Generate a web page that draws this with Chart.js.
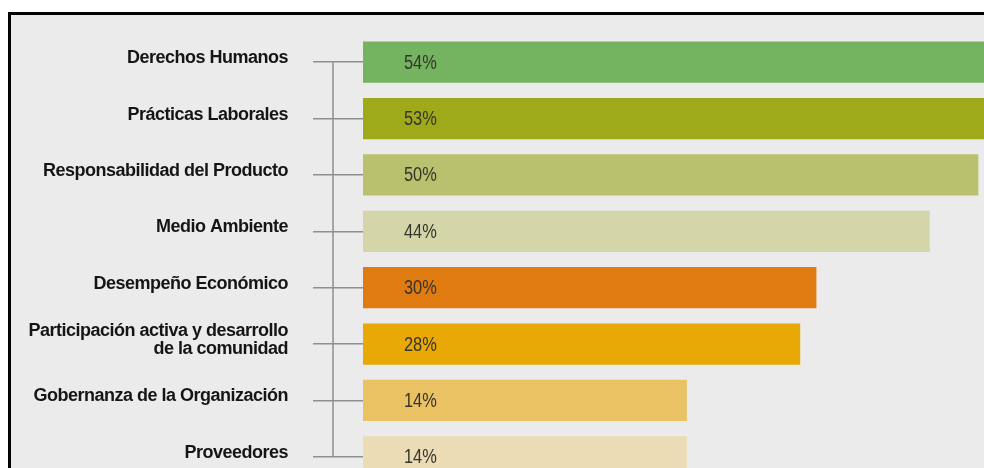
<!DOCTYPE html>
<html>
<head>
<meta charset="utf-8">
<script src="https://cdn.jsdelivr.net/npm/chart.js@4.4.1/dist/chart.umd.min.js"></script>
<style>
  html, body { margin: 0; padding: 0; background: #fff; overflow: hidden; width: 984px; height: 468px; }
  #frame { position: absolute; left: 8px; top: 12px; width: 1000px; height: 500px; border-top: 3px solid #000; border-left: 3px solid #000; background: #ebebeb; }
  #wrap { position: absolute; left: 0; top: 0; width: 984px; height: 520px; }
</style>
</head>
<body>
<div id="frame"></div>
<div id="wrap"><canvas id="chartTemas"></canvas></div>
<script>
/* global Chart */

const categorias = [
  'Derechos Humanos',
  'Prácticas Laborales',
  'Responsabilidad del Producto',
  'Medio Ambiente',
  'Desempeño Económico',
  ['Participación activa y desarrollo', 'de la comunidad'],
  'Gobernanza de la Organización',
  'Proveedores'
]
const porcentajes = [54, 53, 50, 44, 30, 28, 14, 14]
const colores = ['#74b35f', '#9faa1a', '#b9c06e', '#d4d6a9', '#e07b11', '#e8a806', '#eac163', '#ebdcb5']

// the bars start left of zero in the original
const ejeMin = -26
const ejeMax = 50.7

const fuente = "'Liberation Sans', Arial, sans-serif"

// tighter letters, closer to the condensed face of the original
const ajusteTexto = {
  id: 'ajusteTexto',
  beforeDraw (chart) {
    chart.ctx.letterSpacing = '-0.5px'
  }
}

const etiquetasValor = {
  id: 'etiquetasValor',
  afterDatasetsDraw (chart) {
    const { ctx } = chart
    const meta = chart.getDatasetMeta(0)
    ctx.save()
    ctx.letterSpacing = '0px'
    ctx.font = `20px ${fuente}`
    ctx.fillStyle = '#35352c'
    ctx.textAlign = 'left'
    ctx.textBaseline = 'middle'
    meta.data.forEach((bar, i) => {
      ctx.save()
      ctx.translate(bar.base + 41, bar.y + 1)
      ctx.scale(0.82, 1)
      ctx.fillText(`${porcentajes[i]}%`, 0, 0)
      ctx.restore()
    })
    ctx.restore()
  }
}

const corchete = {
  id: 'corchete',
  afterDraw (chart) {
    const { ctx } = chart
    const y = chart.scales.y
    const x = chart.chartArea.left - 30
    ctx.save()
    ctx.strokeStyle = '#8f8f8f'
    ctx.lineWidth = 1.5
    ctx.beginPath()
    ctx.moveTo(x, y.getPixelForTick(0))
    ctx.lineTo(x, y.getPixelForTick(categorias.length - 1))
    ctx.stroke()
    ctx.restore()
  }
}

const ctx = document.getElementById('chartTemas').getContext('2d')
new Chart(ctx, {
  type: 'bar',
  data: {
    labels: categorias,
    datasets: [{
      data: porcentajes,
      backgroundColor: colores,
      base: ejeMin,
      borderWidth: 0,
      categoryPercentage: 1,
      barPercentage: 0.73
    }]
  },
  options: {
    indexAxis: 'y',
    responsive: true,
    maintainAspectRatio: false,
    animation: false,
    layout: { padding: { top: 33, bottom: 35, left: 0, right: 0 } },
    plugins: {
      legend: { display: false },
      tooltip: { enabled: false }
    },
    scales: {
      x: {
        display: false,
        min: ejeMin,
        max: ejeMax
      },
      y: {
        border: { display: false },
        grid: {
          display: true,
          drawOnChartArea: false,
          drawTicks: true,
          tickLength: 50,
          offset: false,
          color: '#8f8f8f',
          lineWidth: 1.5
        },
        ticks: {
          padding: 25,
          labelOffset: -4,
          color: '#151515',
          font: { family: fuente, size: 18, weight: 'bold', lineHeight: 1 }
        },
        afterFit (scale) {
          scale.width = 363
        }
      }
    }
  },
  plugins: [ajusteTexto, etiquetasValor, corchete]
})
</script>
</body>
</html>
